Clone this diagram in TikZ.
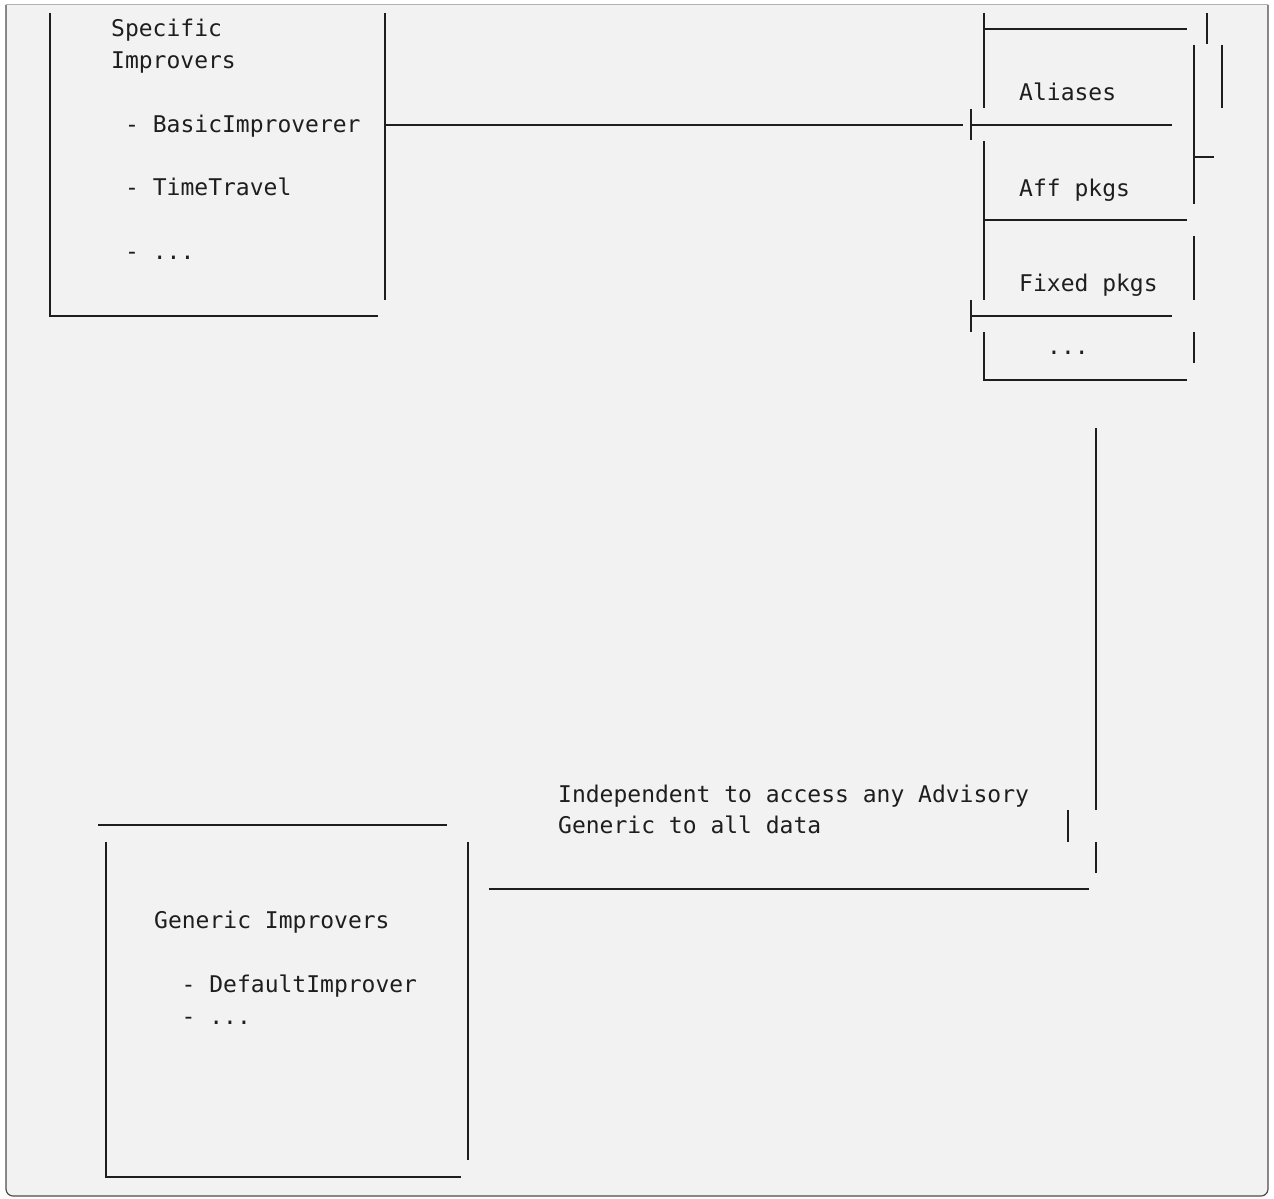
\documentclass[tikz,border=0pt]{standalone}
\usepackage{fontspec}
\setmonofont{DejaVu Sans Mono}
\usetikzlibrary{backgrounds}
\definecolor{codebg}{RGB}{242,242,242}
\definecolor{codeline}{RGB}{30,30,30}

\begin{document}
\begin{tikzpicture}[x=1pt,y=-1pt,
    wire/.style={draw=codeline, line width=1.5pt},
    txt/.style={anchor=base west, inner sep=0pt, text=codeline,
                font=\ttfamily\fontsize{23}{31.85}\selectfont}]
    \useasboundingbox (0,0) rectangle (1274,1199);

    % specific improvers box
    \node[txt] (specific) at (111,37)    {Specific};
    \node[txt] (improvers) at (111,68.5) {Improvers};
    \node[txt] (basic) at (125,132)      {- BasicImproverer};
    \node[txt] (timetravel) at (125,195.5) {- TimeTravel};
    \node[txt] (specmore) at (125,259)   {- ...};
    \draw[wire] (50,13) -- (50,316) -- (378,316);
    \draw[wire] (385,13) -- (385,300);
    \draw[wire] (385,125) -- (963,125);

    % advisory data stack
    \node[txt] (aliases) at (1019,100.5) {Aliases};
    \node[txt] (affpkgs) at (1019,196)   {Aff pkgs};
    \node[txt] (fixedpkgs) at (1019,291) {Fixed pkgs};
    \node[txt] (datamore) at (1047,354)  {...};
    \draw[wire] (971,109) -- (971,140);
    \draw[wire] (971,125) -- (1172,125);
    \draw[wire] (984,13) -- (984,108);
    \draw[wire] (984,29) -- (1187,29);
    \draw[wire] (1207,13) -- (1207,44);
    \draw[wire] (1194,45) -- (1194,204);
    \draw[wire] (1222,45) -- (1222,108);
    \draw[wire] (1194,157) -- (1214,157);
    \draw[wire] (984,141) -- (984,300);
    \draw[wire] (984,220) -- (1187,220);
    \draw[wire] (1194,236) -- (1194,300);
    \draw[wire] (971,300) -- (971,332);
    \draw[wire] (971,316) -- (1172,316);
    \draw[wire] (984,332) -- (984,380) -- (1187,380);
    \draw[wire] (1194,332) -- (1194,363);

    % link down to the generic box
    \node[txt] (independent) at (558,802) {Independent to access any Advisory};
    \node[txt] (alldata) at (558,833.5)   {Generic to all data};
    \draw[wire] (1096,428) -- (1096,810);
    \draw[wire] (1068,810) -- (1068,842);
    \draw[wire] (1096,842) -- (1096,873);
    \draw[wire] (489,889) -- (1089,889);

    % generic improvers box
    \node[txt] (generic) at (154,928.5) {Generic Improvers};
    \node[txt] (default) at (181.5,992.5) {- DefaultImprover};
    \node[txt] (genmore) at (181.5,1024.5) {- ...};
    \draw[wire] (98,825) -- (447,825);
    \draw[wire] (106,842) -- (106,1177) -- (461,1177);
    \draw[wire] (468,842) -- (468,1160);

    \begin{pgfonlayer}{background}
    \fill[codebg] (6,5) {[rounded corners=7pt] -- (6,1196) -- (1268,1196)} -- (1268,5) -- cycle;
    \draw[black!70, line width=1.2pt] (6,5) {[rounded corners=7pt] -- (6,1196) -- (1268,1196)} -- (1268,5);
    \draw[gray!60, line width=1pt] (6,5) -- (1268,5);
    \end{pgfonlayer}
\end{tikzpicture}
\end{document}
